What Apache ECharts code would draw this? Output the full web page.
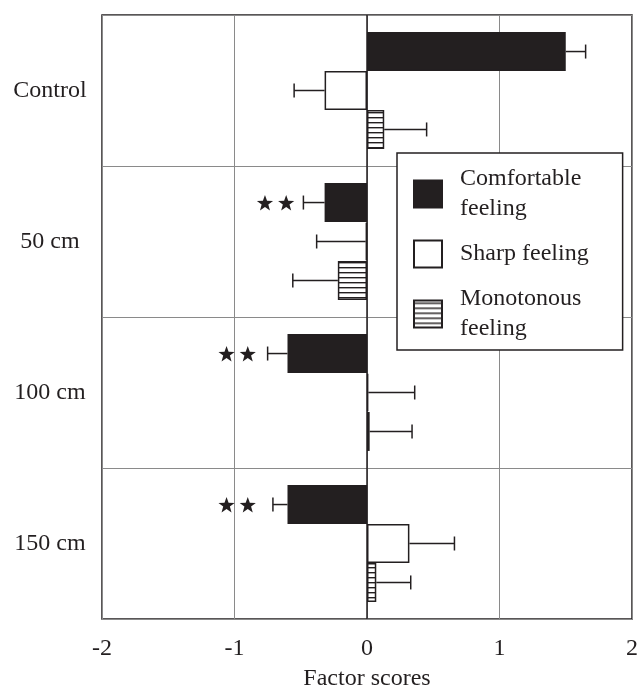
<!DOCTYPE html>
<html><head><meta charset="utf-8">
<script src="https://cdn.jsdelivr.net/npm/echarts@6/dist/echarts.min.js"></script>
<style>html,body{margin:0;padding:0;background:#fff}#c{width:639px;height:688px}</style>
</head><body><div id="c"></div>
<script>
const categories = ['Control', '50 cm', '100 cm', '150 cm'];
const comfortable = [1.50, -0.32, -0.60, -0.60];
const comfortableErr = [0.15, 0.16, 0.15, 0.11];
const sharp = [-0.32, -0.01, 0.01, 0.32];
const sharpErr = [0.23, 0.37, 0.35, 0.34];
const monotonous = [0.13, -0.22, 0.02, 0.07];
const monotonousErr = [0.32, 0.34, 0.32, 0.26];
const starX = [[], [-0.77, -0.61], [-1.06, -0.90], [-1.06, -0.90]];
const seriesNames = ['Comfortable feeling', 'Sharp feeling', 'Monotonous feeling'];
const legendText = {'Comfortable feeling': 'Comfortable\nfeeling', 'Sharp feeling': 'Sharp feeling', 'Monotonous feeling': 'Monotonous\nfeeling'};
const xTicks = [-2, -1, 0, 1, 2];

const INK = '#231f20';
const FONT = "'Liberation Serif', 'Times New Roman', serif";
const BARFRAC = 0.258;

// horizontal stripe pattern
const pc = document.createElement('canvas');
pc.width = 8; pc.height = 5;
const pctx = pc.getContext('2d');
pctx.fillStyle = '#fff'; pctx.fillRect(0, 0, 8, 5);
pctx.fillStyle = INK; pctx.fillRect(0, 2, 8, 1.4);

function errSeries(idx, vals, errs) {
  return {
    type: 'custom', silent: true, z: 5,
    data: vals.map((v, i) => [v, i, errs[i]]),
    renderItem: function (params, api) {
      const v = api.value(0), ci = api.value(1), e = api.value(2);
      const band = api.size([0, 1])[1];
      const bw = band * BARFRAC;
      const c0 = api.coord([v, ci]);
      const end = api.coord([v >= 0 ? v + e : v - e, ci]);
      const y = c0[1] + (idx - 1) * bw;
      const h = 7;
      return {
        type: 'group', children: [
          {type: 'line', shape: {x1: c0[0], y1: y, x2: end[0], y2: y}, style: {stroke: INK, lineWidth: 1.5}},
          {type: 'line', shape: {x1: end[0], y1: y - h, x2: end[0], y2: y + h}, style: {stroke: INK, lineWidth: 1.5}}
        ]
      };
    }
  };
}

function starPoints(cx, cy, R, r) {
  const pts = [];
  for (let k = 0; k < 10; k++) {
    const rad = k % 2 === 0 ? R : r;
    const a = -Math.PI / 2 + k * Math.PI / 5;
    pts.push([cx + rad * Math.cos(a), cy + rad * Math.sin(a)]);
  }
  return pts;
}

const starData = [];
starX.forEach((arr, ci) => arr.forEach(x => starData.push([x, ci])));

const chart = echarts.init(document.getElementById('c'));
chart.setOption({
  animation: false,
  backgroundColor: '#fff',
  grid: {left: 102, right: 7, top: 15, bottom: 69, show: true, borderColor: INK, borderWidth: 1.5,
         containLabel: false, outerBoundsMode: 'none'},
  legend: {
    orient: 'vertical', left: 397, top: 153,
    padding: [11, 34, 6, 16],
    itemWidth: 28, itemHeight: 27, itemGap: 15,
    backgroundColor: '#fff', borderColor: INK, borderWidth: 1.5,
    icon: 'rect',
    data: seriesNames,
    formatter: n => legendText[n],
    textStyle: {fontFamily: FONT, fontSize: 24, color: INK, lineHeight: 30, padding: [0, 0, 0, 13]}
  },
  xAxis: {
    type: 'value', min: -2, max: 2, interval: 1,
    axisLine: {show: false}, axisTick: {show: false},
    axisLabel: {fontFamily: FONT, fontSize: 24, color: INK, margin: 18, formatter: v => String(v)},
    splitLine: {show: true, lineStyle: {color: '#8a8a8a', width: 1}},
    name: 'Factor scores', nameLocation: 'middle', nameGap: 48,
    nameTextStyle: {fontFamily: FONT, fontSize: 24, color: INK}
  },
  yAxis: {
    type: 'category', data: categories, inverse: true,
    axisLine: {show: false}, axisTick: {show: false},
    axisLabel: {fontFamily: FONT, fontSize: 24, color: INK, align: 'center', margin: 52, padding: [18, 0, 0, 0]},
    splitLine: {show: true, interval: 0, lineStyle: {color: '#8a8a8a', width: 1}}
  },
  series: [
    {name: seriesNames[0], type: 'bar', data: comfortable, barWidth: (BARFRAC * 100) + '%', barGap: '0%', barCategoryGap: '22.6%',
     itemStyle: {color: INK, borderColor: INK, borderWidth: 1.5},
     markLine: {silent: true, symbol: 'none', label: {show: false}, lineStyle: {color: INK, width: 1.5, type: 'solid'}, data: [{xAxis: 0}]}},
    {name: seriesNames[1], type: 'bar', data: sharp, barWidth: (BARFRAC * 100) + '%', barGap: '0%',
     itemStyle: {color: '#fff', borderColor: INK, borderWidth: 1.5}},
    {name: seriesNames[2], type: 'bar', data: monotonous, barWidth: (BARFRAC * 100) + '%', barGap: '0%',
     itemStyle: {color: {image: pc, repeat: 'repeat'}, borderColor: INK, borderWidth: 1.5}},
    errSeries(0, comfortable, comfortableErr),
    errSeries(1, sharp, sharpErr),
    errSeries(2, monotonous, monotonousErr),
    {
      type: 'custom', silent: true, z: 6, data: starData,
      renderItem: function (params, api) {
        const c = api.coord([api.value(0), api.value(1)]);
        const band = api.size([0, 1])[1];
        const y = c[1] - band * BARFRAC;
        return {type: 'polygon', shape: {points: starPoints(c[0], y + 1, 8.5, 3.5)}, style: {fill: INK}};
      }
    }
  ]
});
</script></body></html>
